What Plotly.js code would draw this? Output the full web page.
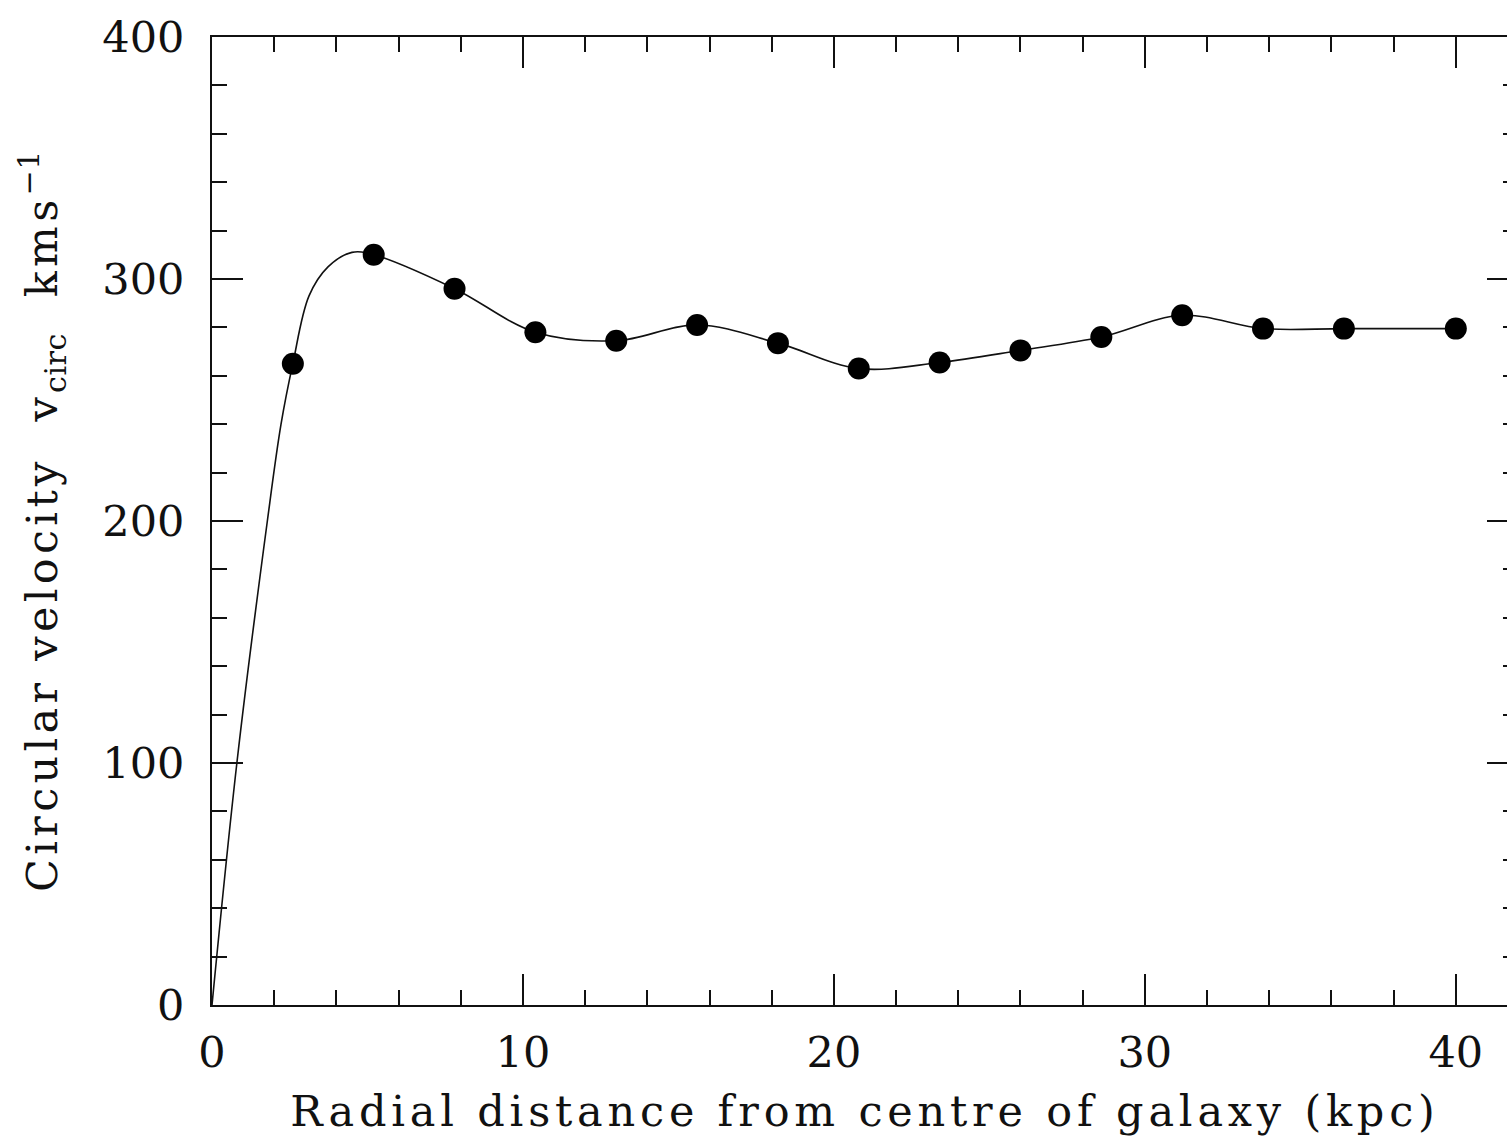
<!DOCTYPE html>
<html>
<head>
<meta charset="utf-8">
<script src="https://cdn.plot.ly/plotly-3.0.1.min.js"></script>
<style>
  html, body { margin: 0; padding: 0; background: #fff; overflow: hidden; }
  #chart { width: 1530px; height: 1142px; }
  .xtitle { letter-spacing: 4.8px; }
  .ytitle { letter-spacing: 4.3px; }
  .ytitle tspan[style*="70%"] { letter-spacing: 0.5px; }
</style>
</head>
<body>
<div id="chart"></div>
<script>
// Measured rotation curve: radius (kpc) and circular velocity (km/s)
const radius = [2.6, 5.2, 7.8, 10.4, 13.0, 15.6, 18.2, 20.8, 23.4, 26.0, 28.6, 31.2, 33.8, 36.4, 40.0];
const vcirc  = [265, 310, 296, 278, 274.5, 281, 273.5, 263, 265.5, 270.5, 276, 285, 279.5, 279.5, 279.5];

// Smooth model curve through the origin and the measurements
const curveR = [0, 0.8, 1.78, 2.22, 2.6, 3.12, 3.73, 4.5, 5.2, 7.8, 10.4, 13.0, 15.6, 18.2, 20.8, 23.4, 26.0, 28.6, 31.2, 33.8, 36.4, 40.0];
const curveV = [0, 100, 200, 240, 265, 293, 305, 311, 310, 296, 278, 274.5, 281, 273.5, 263, 265.5, 270.5, 276, 285, 279.5, 279.5, 279.5];

// Axis ticks
const xTicks = [0, 10, 20, 30, 40];
const yTicks = [0, 100, 200, 300, 400];

const ink = '#111';
const font = 'DejaVu Serif, serif';

const traces = [
  {
    x: curveR, y: curveV, type: 'scatter', mode: 'lines',
    line: { color: ink, width: 1.6, shape: 'spline', smoothing: 1 },
    hoverinfo: 'skip'
  },
  {
    x: radius, y: vcirc, type: 'scatter', mode: 'markers',
    marker: { color: '#000', size: 22, line: { width: 0 } }
  }
];

const axisCommon = {
  showgrid: false, zeroline: false,
  showline: true, linecolor: ink, linewidth: 2, mirror: 'ticks',
  ticks: 'inside', ticklen: 31, tickwidth: 2, tickcolor: ink,
  tickfont: { family: font, size: 43, color: ink }
};

const layout = {
  width: 1530, height: 1142,
  margin: { l: 212, r: 12, t: 37, b: 137 },
  paper_bgcolor: '#fff', plot_bgcolor: '#fff',
  showlegend: false,
  xaxis: Object.assign({}, axisCommon, {
    range: [0, 42], tickvals: xTicks, ticktext: xTicks.map(String),
    minor: { dtick: 2, tick0: 0, ticks: 'inside', ticklen: 15, tickwidth: 2, tickcolor: ink },
    ticklabelstandoff: 8,
    title: { text: 'Radial distance from centre of galaxy (kpc)', font: { family: font, size: 43, color: ink }, standoff: 20 }
  }),
  yaxis: Object.assign({}, axisCommon, {
    range: [0, 400], tickvals: yTicks, ticktext: yTicks.map(String),
    minor: { dtick: 20, tick0: 0, ticks: 'inside', ticklen: 15, tickwidth: 2, tickcolor: ink },
    ticklabelstandoff: 17,
    title: { text: 'Circular velocity\u00a0\u00a0v<sub>circ</sub>\u00a0\u00a0kms<sup>\u22121</sup>', font: { family: font, size: 43, color: ink }, standoff: 31 }
  })
};

Plotly.newPlot('chart', traces, layout, { staticPlot: true });
</script>
</body>
</html>
